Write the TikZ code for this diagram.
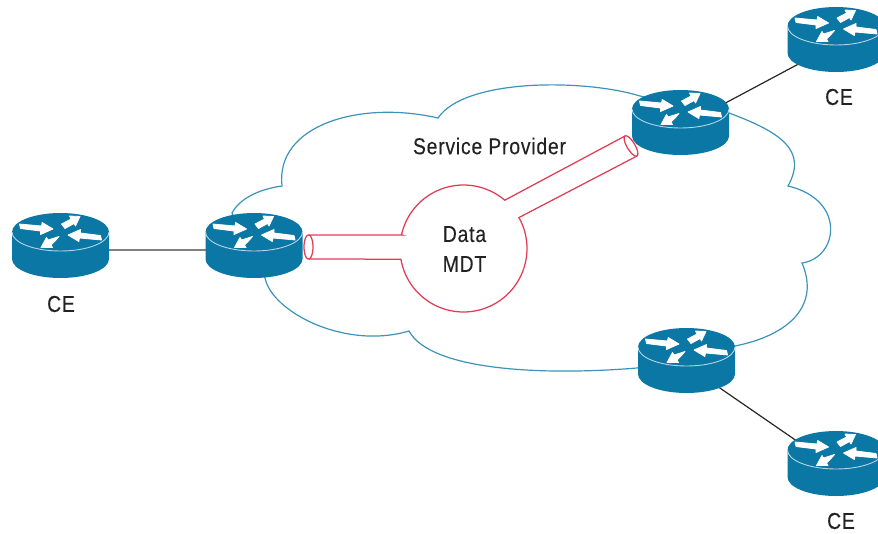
\documentclass[tikz,border=0pt]{standalone}
\usepackage{fontspec}
\setmainfont[FakeStretch=0.84,LetterSpace=3.5,FakeBold=0.25]{Liberation Sans}
\definecolor{rblue}{HTML}{0A77A5}
\definecolor{cloudblue}{HTML}{3C93B8}
\definecolor{tubered}{HTML}{E23B54}
\definecolor{ink}{HTML}{222222}
\newcommand{\routerdraw}[2]{%
  \begin{scope}[shift={(#1,#2)}]
    \fill[rblue] (-48.5,0) -- (-48.5,27) .. controls (-48.5,37.5) and (-26.8,46) .. (0,46)
      .. controls (26.8,46) and (48.5,37.5) .. (48.5,27) -- (48.5,0)
      .. controls (48.5,-10.5) and (26.8,-19) .. (0,-19)
      .. controls (-26.8,-19) and (-48.5,-10.5) .. (-48.5,0) -- cycle;
    \draw[white!70!rblue,line width=0.9pt] (-48.5,0) .. controls (-48.5,10.5) and (-26.8,19) .. (0,19)
      .. controls (26.8,19) and (48.5,10.5) .. (48.5,0);
    \begin{scope}[fill=white,draw=white,line width=0.8pt,line join=round]
    \filldraw (-41,-8) -- (-19,-6) -- (-18.3,-9.5) -- (-7.5,-3) -- (-20,2.5) -- (-20,-1) -- (-40,-3.5) -- cycle;
    \filldraw (41,8) -- (19,6) -- (18.3,9.5) -- (7.5,3) -- (20,-2.5) -- (20,1) -- (40,3.5) -- cycle;
    \filldraw (1,-8) -- (10.6,-13) -- (9,-16) -- (19.5,-15.5) -- (15,-6) -- (13.6,-8.5) -- (4.5,-3.5) -- cycle;
    \filldraw (-1.5,4.5) -- (-12.5,8) -- (-14,5.5) -- (-19.5,15.5) -- (-8,15.5) -- (-9.5,13) -- (-5,8.5) -- cycle;
    \end{scope}
  \end{scope}}
\tikzset{
  routerbox/.style={inner sep=0pt,minimum width=97pt,minimum height=56pt},
  link/.style={line width=1.2pt},
  cloudline/.style={draw=cloudblue,line width=1.2pt,line join=miter},
  tube/.style={draw=tubered,line width=1.25pt},
  lbl/.style={inner sep=0pt,text=ink,font=\fontsize{23}{30}\selectfont,align=center}
}
\begin{document}
\begin{tikzpicture}[x=1pt,y=-1pt]
\useasboundingbox (0,0) rectangle (878,533);
\clip (0,0) rectangle (878,533);
\node[routerbox] (ceL) at (60.5,250) {};
\node[routerbox] (peL) at (254,250) {};
\node[routerbox] (peT) at (680.5,127) {};
\node[routerbox] (ceT) at (836,44) {};
\node[routerbox] (peB) at (686.5,365) {};
\node[routerbox] (ceB) at (836,468) {};
% cloud
\draw[cloudline] (265,278)
  .. controls (272,312) and (345,350) .. (409,331)
  .. controls (430,370) and (540,376) .. (637,368)
  -- (735,346)
  .. controls (790,335) and (820,305) .. (802,263)
  .. controls (838,258) and (847,200) .. (788,186)
  .. controls (808,150) and (780,132) .. (729,113)
  -- (640,96)
  .. controls (585,79) and (465,78) .. (438,118)
  .. controls (360,100) and (275,125) .. (282,186)
  .. controls (260,189) and (240,198) .. (232,213)
  -- cycle;
% links
\draw[link,draw=black!50] (ceL.center) -- (peL.center);
\draw[link,draw=black!85] (peT.center) -- (ceT.center);
\draw[link,draw=black!85] (peB.center) -- (ceB.center);
% routers
\routerdraw{60.5}{232}
\routerdraw{254}{232}
\routerdraw{680.5}{109}
\routerdraw{836}{26}
\routerdraw{686.5}{347}
\routerdraw{836}{450}
% tube
\draw[tube] (308.5,235) -- (402,235)
  -- plot[domain=192.4:310.5,samples=50,smooth] ({463.5+63.5*cos(\x)},{248.5+63.5*sin(\x)})
  -- (625,136);
\draw[tube] (637,156) -- (520,217)
  -- plot[domain=330.9:530.3,samples=70,smooth] ({463.5+63.5*cos(\x)},{248.5+63.5*sin(\x)})
  -- (308.5,259);
\draw[tube] plot[domain=0:350,samples=36,smooth cycle] ({308.5+4.5*cos(\x)},{247+12*sin(\x)});
\draw[tube] plot[domain=0:350,samples=36,smooth cycle] ({631+6*cos(\x)-3.4*sin(\x)},{146+10*cos(\x)+2.06*sin(\x)});
% labels
\node[lbl] (sp) at (489.5,146) {Service Provider};
\node[lbl] (mdt) at (464.5,249) {Data\\MDT};
\node[lbl] (l1) at (61,304) {CE};
\node[lbl] (l2) at (839,97) {CE};
\node[lbl] (l3) at (841,521) {CE};
\end{tikzpicture}
\end{document}
